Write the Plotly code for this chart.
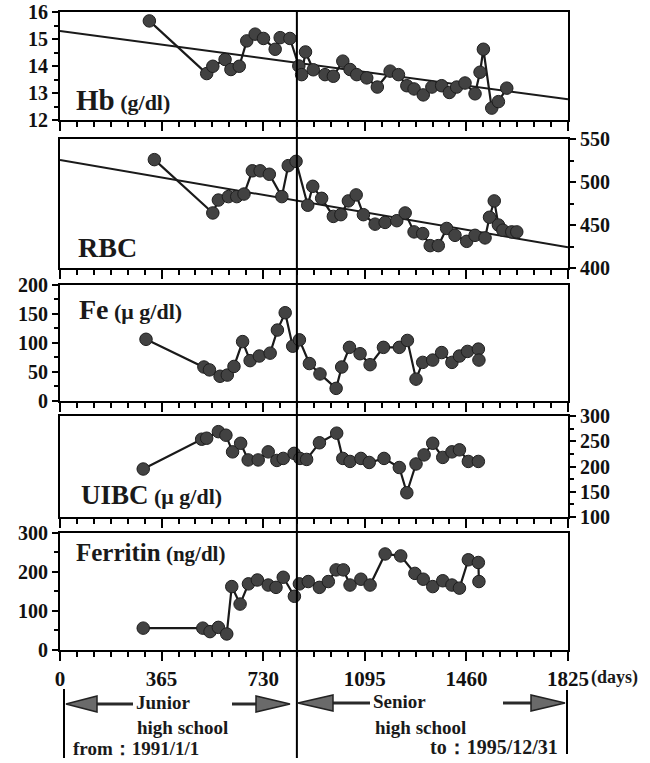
import plotly.graph_objects as go

# ---------------- data ----------------
hb_days = [321, 527, 549, 593, 614, 644, 671, 701, 731, 773, 791, 826, 858, 868, 882, 910, 952,
           982, 1016, 1042, 1066, 1102, 1140, 1186, 1216, 1246, 1272, 1305, 1336, 1371, 1399,
           1425, 1455, 1491, 1509, 1521, 1551, 1575, 1605]
hb_vals = [15.67, 13.72, 13.99, 14.24, 13.87, 13.99, 14.93, 15.18, 15.02, 14.62, 15.05, 15.02,
           14.0, 13.68, 14.52, 13.86, 13.68, 13.62, 14.18, 13.87, 13.68, 13.56, 13.22, 13.81,
           13.68, 13.27, 13.15, 12.93, 13.22, 13.27, 13.02, 13.22, 13.37, 12.97, 13.77, 14.62,
           12.44, 12.68, 13.18]

rbc_days = [339, 549, 569, 605, 635, 661, 691, 719, 752, 797, 820, 848, 890, 908, 940, 982, 1009,
            1036, 1064, 1090, 1132, 1168, 1210, 1240, 1272, 1303, 1330, 1359, 1389, 1419, 1461,
            1491, 1527, 1543, 1560, 1575, 1591, 1623, 1641]
rbc_vals = [526, 464, 479, 483, 483, 486, 513, 513, 509, 483, 519, 524, 473, 495, 481, 460, 462,
            478, 485, 462, 451, 453, 455, 464, 442, 440, 426, 426, 446, 438, 431, 438, 435, 459,
            478, 450, 444, 442, 442]

fe_days = [309, 517, 537, 575, 601, 625, 656, 683, 716, 755, 781, 809, 836, 860, 896, 934, 992,
           1012, 1040, 1078, 1114, 1162, 1219, 1248, 1279, 1303, 1339, 1371, 1408, 1435, 1464,
           1503, 1505]
fe_vals = [106, 58, 53, 42, 44, 59, 102, 69, 77, 82, 122, 152, 94, 105, 64, 46, 21, 58, 92, 81,
           62, 92, 92, 104, 37, 66, 70, 83, 66, 77, 85, 89, 70]

uibc_days = [299, 509, 527, 569, 596, 620, 649, 676, 712, 748, 779, 802, 841, 862, 886, 932, 994,
             1016, 1042, 1081, 1111, 1164, 1219, 1246, 1279, 1308, 1339, 1375, 1408, 1435, 1467,
             1503]
uibc_vals = [195, 254, 256, 269, 262, 229, 246, 213, 213, 229, 212, 216, 226, 216, 214, 247, 266,
             216, 210, 216, 208, 216, 198, 148, 205, 223, 246, 218, 229, 233, 210, 210]

ferritin_days = [299, 513, 539, 569, 599, 617, 647, 677, 709, 748, 776, 802, 842, 860, 892, 932,
                 964, 992, 1018, 1042, 1081, 1114, 1168, 1224, 1275, 1305, 1339, 1375, 1408,
                 1435, 1467, 1503, 1505]
ferritin_vals = [55, 55, 46, 57, 40, 162, 117, 169, 179, 166, 160, 186, 137, 169, 175, 160, 175,
                 205, 205, 166, 181, 166, 246, 241, 196, 181, 162, 177, 166, 158, 231, 224, 175]

trend_days = [0, 1825]
hb_trend = [15.30, 12.77]
rbc_trend = [525.6, 424.1]

boundary_day = 851
x_tick_vals = [0, 365, 730, 1095, 1460, 1825]
x_tick_text = ["0", "365", "730", "1095", "1460", "1825"]

# ---------------- layout helpers ----------------
W, H = 650, 763
FONT = "Liberation Serif, Times New Roman, serif"


def px(x):
    return x / W


def py(y):
    return 1 - y / H


XDOM = [px(60), px(568)]

panels = [
    dict(d=hb_days, v=hb_vals, rng=[12, 16], side="left", maj=1, mnr=0.5, top=12, bot=120,
         trend=hb_trend),
    dict(d=rbc_days, v=rbc_vals, rng=[400, 550], side="right", maj=50, mnr=25, top=139, bot=268,
         trend=rbc_trend),
    dict(d=fe_days, v=fe_vals, rng=[0, 200], side="left", maj=50, mnr=25, top=285, bot=400.5,
         trend=None),
    dict(d=uibc_days, v=uibc_vals, rng=[100, 300], side="right", maj=50, mnr=25, top=416, bot=517,
         trend=None),
    dict(d=ferritin_days, v=ferritin_vals, rng=[0, 300], side="left", maj=100, mnr=50, top=533,
         bot=649.5, trend=None),
]

fig = go.Figure()
layout = dict(
    width=W, height=H, margin=dict(l=0, r=0, t=0, b=0, autoexpand=False),
    paper_bgcolor="white", plot_bgcolor="white", showlegend=False,
    font=dict(family=FONT, color="black"),
)

TICKFONT_X = dict(family=FONT, size=21, color="#111111", weight="bold")
TICKFONT_Y = dict(family=FONT, size=20, color="#111111", weight="bold")

for i, p in enumerate(panels, start=1):
    xa = "x" if i == 1 else f"x{i}"
    ya = "y" if i == 1 else f"y{i}"
    if p["trend"] is not None:
        fig.add_trace(go.Scatter(x=trend_days, y=p["trend"], mode="lines",
                                 line=dict(color="#1a1a1a", width=2),
                                 xaxis=xa, yaxis=ya, hoverinfo="skip"))
    fig.add_trace(go.Scatter(x=p["d"], y=p["v"], mode="lines+markers",
                             line=dict(color="#1a1a1a", width=2.2),
                             marker=dict(size=12.5, color="#424242",
                                         line=dict(color="#1e1e1e", width=1)),
                             xaxis=xa, yaxis=ya, cliponaxis=False))
    last = (i == len(panels))
    layout[f"xaxis{'' if i == 1 else i}"] = dict(
        domain=XDOM, anchor=ya, range=[0, 1825], showgrid=False, zeroline=False,
        automargin=False,
        showline=True, linecolor="black", linewidth=2, mirror=True,
        tickmode="array", tickvals=x_tick_vals, ticktext=x_tick_text,
        ticks="outside", ticklen=9, tickwidth=2, tickcolor="black",
        showticklabels=last, tickfont=TICKFONT_X,
        minor=dict(tickmode="linear", tick0=0, dtick=365 / 6, ticks="outside",
                   ticklen=5, tickwidth=2, tickcolor="black", showgrid=False),
        fixedrange=True,
    )
    layout[f"yaxis{'' if i == 1 else i}"] = dict(
        domain=[py(p["bot"]), py(p["top"])], anchor=xa, range=p["rng"], side=p["side"],
        automargin=False,
        showgrid=False, zeroline=False, showline=True, linecolor="black", linewidth=2,
        mirror=True, tickmode="linear", tick0=p["rng"][0], dtick=p["maj"],
        ticks="outside", ticklen=6, tickwidth=2, tickcolor="black",
        tickfont=TICKFONT_Y,
        minor=dict(tickmode="linear", tick0=p["rng"][0], dtick=p["mnr"], ticks="outside",
                   ticklen=4, tickwidth=2, tickcolor="black", showgrid=False),
        fixedrange=True,
    )

fig.update_layout(**layout)

# ---------------- panel labels ----------------
labels = [
    ("<b>Hb</b><span style='font-size:22px'><b> (g/dl)</b></span>", 74, 100, 29),
    ("<b>RBC</b>", 76, 247, 28),
    ("<b>Fe</b><span style='font-size:22px'><b> (μ g/dl)</b></span>", 77, 309, 28),
    ("<b>UIBC</b><span style='font-size:22px'><b> (μ g/dl)</b></span>", 79, 495, 27),
    ("<b>Ferritin</b><span style='font-size:21px'><b> (ng/dl)</b></span>", 74, 552, 25),
]
for txt, x, y, s in labels:
    fig.add_annotation(text=txt, x=px(x), y=py(y), xref="paper", yref="paper",
                       xanchor="left", yanchor="middle", showarrow=False,
                       font=dict(family=FONT, size=s, color="#1a1a1a"))

# ---------------- bottom annotation block ----------------
shapes = []
shapes.append(dict(type="line", xref="x5", yref="paper", x0=boundary_day, x1=boundary_day,
                   y0=py(758), y1=py(12), line=dict(color="black", width=2)))
shapes.append(dict(type="line", xref="paper", yref="paper", x0=px(64), x1=px(64),
                   y0=py(758), y1=py(689), line=dict(color="black", width=2)))
shapes.append(dict(type="line", xref="paper", yref="paper", x0=px(567), x1=px(567),
                   y0=py(754), y1=py(690), line=dict(color="black", width=2)))


def arrow(tail, base, tip, y):
    shapes.append(dict(type="line", xref="paper", yref="paper", x0=px(tail), x1=px(base),
                       y0=py(y), y1=py(y), line=dict(color="#2a2a2a", width=3)))
    path = (f"M {px(tip)},{py(y)} L {px(base)},{py(y - 8)} L {px(base)},{py(y + 8)} Z")
    shapes.append(dict(type="path", xref="paper", yref="paper", path=path,
                       fillcolor="#6a6a6a", line=dict(color="#222222", width=1.5)))


arrow(133, 97, 66, 704)
arrow(232, 256, 290, 704)
arrow(370, 333, 298, 703)
arrow(503, 531, 565, 703)
fig.update_layout(shapes=shapes)

texts = [
    ("<b>Junior</b>", 134, 702, 19),
    ("<b>high school</b>", 135, 727, 19),
    ("<b>from：1991/1/1</b>", 71, 748, 19),
    ("<b>Senior</b>", 371, 701, 19),
    ("<b>high school</b>", 373, 727, 19),
    ("<b>to：1995/12/31</b>", 428, 747, 20),
    ("<b>(days)</b>", 589, 677, 18),
]
for txt, x, y, s in texts:
    fig.add_annotation(text=txt, x=px(x), y=py(y), xref="paper", yref="paper",
                       xanchor="left", yanchor="middle", showarrow=False,
                       font=dict(family=FONT, size=s, color="#1a1a1a"))

fig.write_html("out.html", config={"displayModeBar": False},
               post_script="document.body.style.margin='0';document.body.style.overflow='hidden';")
